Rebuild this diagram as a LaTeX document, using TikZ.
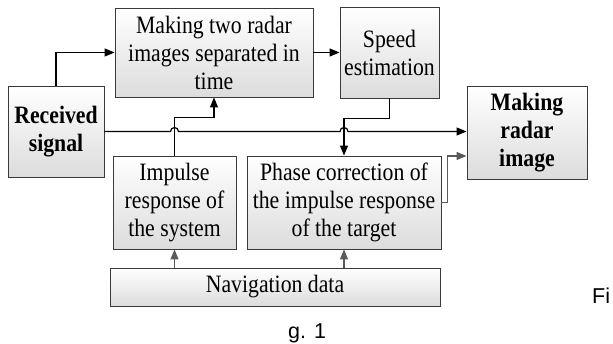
\documentclass[tikz,border=0pt]{standalone}
\usepackage{fontspec}
\setmainfont[FakeStretch=0.87]{Liberation Serif}
\newfontfamily\capfont{Liberation Sans}
\usetikzlibrary{arrows.meta,calc}
\definecolor{boxline}{HTML}{3A3A3A}
\definecolor{grayarr}{HTML}{5A5A5A}
\definecolor{boxbot}{HTML}{DCDCDC}
\tikzset{
  blk/.style={draw=boxline, line width=0.9pt, top color=white, bottom color=boxbot,
    align=center, inner sep=0pt, font=\fontsize{25}{28}\selectfont},
  arr/.style={draw=black, line width=1.2pt, -{Triangle[length=10pt,width=8pt]}},
  garr/.style={draw=grayarr, line width=1.2pt, -{Triangle[length=10pt,width=8pt]}},
  captxt/.style={font=\capfont\fontsize{21.5}{26}\selectfont, anchor=base west, inner sep=0pt}
}
\begin{document}
\begin{tikzpicture}[x=1pt,y=-1pt]
\useasboundingbox (0,0) rectangle (613,343);
\node[blk, minimum width=198pt, minimum height=89pt] (box1) at (214,52.5) {Making two radar\\images separated in\\time};
\node[blk, minimum width=99pt, minimum height=91pt] (speed) at (389.5,52.5) {Speed\\estimation};
\node[blk, minimum width=96pt, minimum height=91pt] (recv) at (56,131.5) {\bfseries Received\\\bfseries signal};
\node[blk, minimum width=120pt, minimum height=93pt] (make) at (527,132.5) {\bfseries Making\\\bfseries radar\\\bfseries image};
\node[blk, minimum width=123pt, minimum height=93pt] (imp) at (174.5,202.5) {Impulse\\response of\\the system};
\node[blk, minimum width=194pt, minimum height=93pt] (phase) at (344,202.5) {Phase correction of\\the impulse response\\of the target};
\node[blk, minimum width=330pt, minimum height=38pt] (nav) at (275,287) {Navigation data};
\node[captxt] (fi) at (592,303) {Fi};
\node[captxt] (g1) at (288,338) {g. 1};
% connectors
\draw[arr] (recv.north) |- (box1.west);
\draw[arr] (box1.east) -- (speed.west);
\draw[arr] (imp.north) -- ++(0,-38) -| (box1.south);
\draw[arr] (speed.south) -- ++(0,20) -| (phase.north);
\draw[arr] (recv.east) -- (170.5,131.5) arc[start angle=180,end angle=0,radius=4pt]
  -- (340,131.5) arc[start angle=180,end angle=0,radius=4pt] -- (make.west |- recv.east);
\draw[garr] (phase.east) -- ++(6,0) |- ($(make.north west)!0.75!(make.south west)$);
\draw[garr] (nav.north -| imp.south) -- (imp.south);
\draw[garr] (nav.north -| phase.south) -- (phase.south);
\end{tikzpicture}
\end{document}
